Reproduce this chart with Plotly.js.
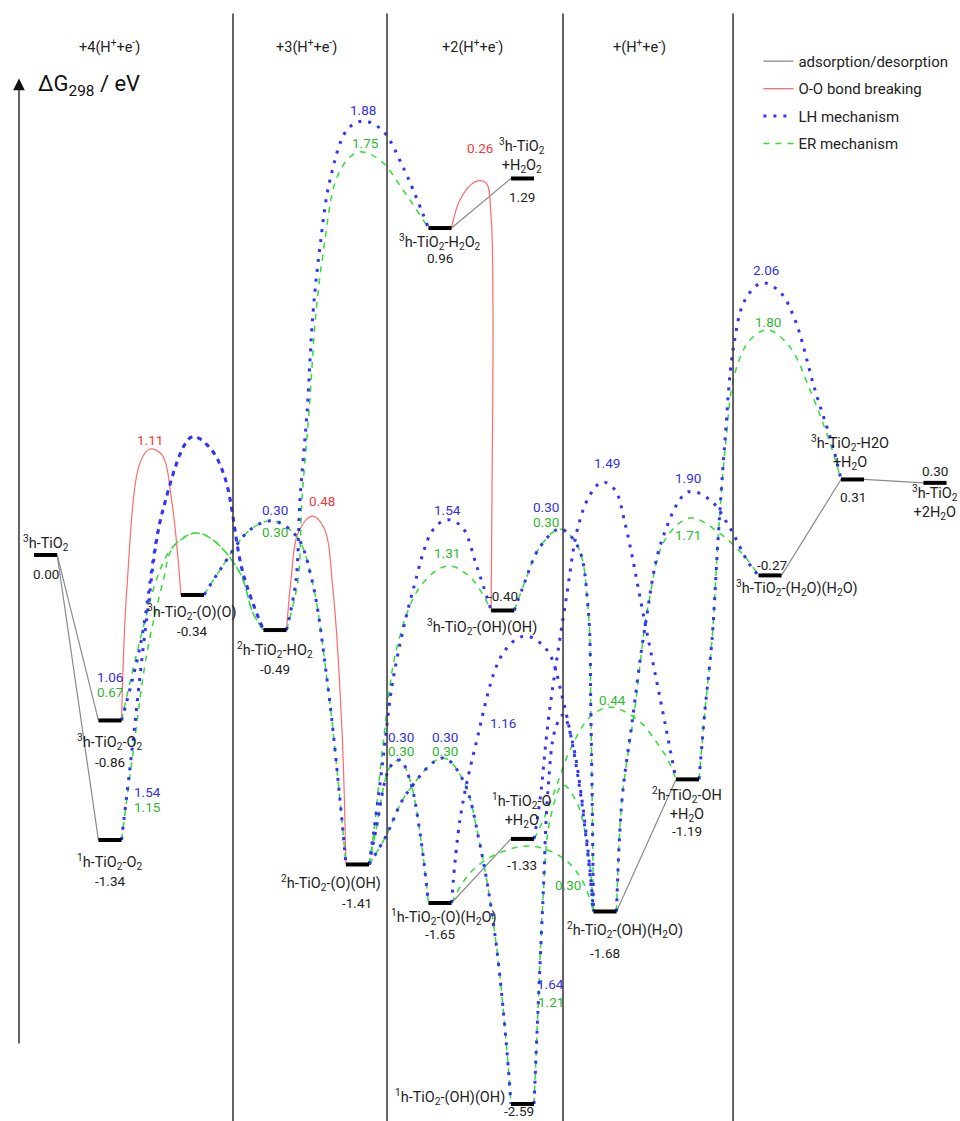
<!DOCTYPE html>
<html><head><meta charset="utf-8">
<script src="https://cdn.plot.ly/plotly-3.0.1.min.js"></script>
<style>html,body{margin:0;padding:0;background:#fff}#chart{width:960px;height:1121px}</style>
</head><body><div id="chart"></div>
<script>
// ---------------- data ----------------
// states (index 0..16)
const levelNames = [
 '<sup>3</sup>h-TiO<sub>2</sub>',
 '<sup>3</sup>h-TiO<sub>2</sub>-O<sub>2</sub>',
 '<sup>1</sup>h-TiO<sub>2</sub>-O<sub>2</sub>',
 '<sup>3</sup>h-TiO<sub>2</sub>-(O)(O)',
 '<sup>2</sup>h-TiO<sub>2</sub>-HO<sub>2</sub>',
 '<sup>2</sup>h-TiO<sub>2</sub>-(O)(OH)',
 '<sup>3</sup>h-TiO<sub>2</sub>-H<sub>2</sub>O<sub>2</sub>',
 '<sup>3</sup>h-TiO<sub>2</sub><br>+H<sub>2</sub>O<sub>2</sub>',
 '<sup>3</sup>h-TiO<sub>2</sub>-(OH)(OH)',
 '<sup>1</sup>h-TiO<sub>2</sub>-(O)(H<sub>2</sub>O)',
 '<sup>1</sup>h-TiO<sub>2</sub>-O<br>+H<sub>2</sub>O',
 '<sup>1</sup>h-TiO<sub>2</sub>-(OH)(OH)',
 '<sup>2</sup>h-TiO<sub>2</sub>-(OH)(H<sub>2</sub>O)',
 '<sup>2</sup>h-TiO<sub>2</sub>-OH<br>+H<sub>2</sub>O',
 '<sup>3</sup>h-TiO<sub>2</sub>-(H<sub>2</sub>O)(H<sub>2</sub>O)',
 '<sup>3</sup>h-TiO<sub>2</sub>-H2O<br>+H<sub>2</sub>O',
 '<sup>3</sup>h-TiO<sub>2</sub><br>+2H<sub>2</sub>O'
];
const levelEnergy = [0.00,-0.86,-1.34,-0.34,-0.49,-1.41,0.96,1.29,-0.40,-1.65,-1.33,-2.59,-1.68,-1.19,-0.27,0.31,0.30];
// reaction-step position and drawn height of each level (diagram is schematic)
const levelStep   = [0.22,1,1,2,3,4,5,6,5.76,5,6,6,7,8,9,10,11];
const levelHeight = [0,-0.778,-1.340,-0.188,-0.353,-1.455,1.537,1.770,-0.261,-1.636,-1.335,-2.581,-1.676,-1.055,-0.096,0.355,0.339];

// adsorption / desorption links (straight)
const adsLinks = [[0,1],[0,2],[6,7],[9,10],[12,13],[14,15],[15,16]];
// O-O bond breaking
const ooLinks = [
 {from:1,to:3,via:[[1.206,-0.150],[1.364,0.433],[1.485,0.498],[1.630,0.470],[1.752,0.244]]},
 {from:4,to:5,via:[[3.194,-0.118],[3.279,0.103],[3.448,0.183],[3.594,0.127],[3.703,-0.165],[3.812,-0.823]]},
 {from:6,to:8,via:[[5.242,1.669],[5.424,1.754],[5.558,1.749],[5.618,1.599],[5.642,1.199],[5.630,0.259]]}
];
// LH mechanism
const lhLinks = [
 {from:1,to:4,via:[[1.364,-0.433],[1.642,0.212],[1.994,0.555],[2.212,0.503],[2.394,0.362],[2.612,-0.085]]},
 {from:2,to:4,via:[[1.267,-0.917],[1.448,-0.291],[1.642,0.212],[1.994,0.555],[2.212,0.503],[2.394,0.362],[2.612,-0.085]]},
 {from:3,to:5,via:[[2.333,-0.071],[2.697,0.118],[2.976,0.160],[3.267,0.085],[3.448,-0.118],[3.642,-0.621],[3.788,-1.152]]},
 {from:4,to:6,via:[[3.255,-0.118],[3.303,0.259],[3.388,0.668],[3.461,1.138],[3.545,1.448],[3.667,1.763],[3.873,1.998],[4.067,2.040],[4.297,1.998],[4.552,1.824]]},
 {from:5,to:8,via:[[4.2,-1.293],[4.309,-0.964],[4.430,-0.588],[4.673,-0.165],[4.915,0.118],[5.085,0.165],[5.267,0.132],[5.448,-0.056]]},
 {from:5,to:9,via:[[4.224,-1.293],[4.394,-0.997],[4.515,-0.964],[4.636,-1.058],[4.758,-1.307]]},
 {from:5,to:11,via:[[4.333,-1.331],[4.6,-1.119],[5.036,-0.954],[5.279,-1.058],[5.485,-1.363],[5.667,-1.787],[5.8,-2.280]]},
 {from:9,to:12,via:[[5.242,-1.246],[5.424,-0.907],[5.764,-0.461],[6.030,-0.381],[6.297,-0.447],[6.491,-0.682],[6.697,-1.105]]},
 {from:8,to:12,via:[[6.006,-0.150],[6.212,0.038],[6.455,0.122],[6.673,0.038],[6.794,-0.244],[6.830,-0.776]]},
 {from:11,to:12,via:[[6.188,-2.139],[6.248,-1.622],[6.309,-1.105],[6.394,-0.823],[6.491,-0.752],[6.6,-0.870],[6.721,-1.152],[6.818,-1.481]]},
 {from:10,to:13,via:[[6.212,-1.152],[6.309,-0.790],[6.406,-0.517],[6.527,-0.212],[6.673,0.132],[6.818,0.282],[6.964,0.343],[7.121,0.306],[7.242,0.150],[7.485,-0.320],[7.727,-0.790]]},
 {from:12,to:14,via:[[7.206,-1.152],[7.327,-0.790],[7.485,-0.339],[7.691,0.071],[8.006,0.296],[8.273,0.259],[8.515,0.127],[8.733,-0.033]]},
 {from:13,to:15,via:[[8.212,-0.729],[8.297,-0.400],[8.370,0.071],[8.455,0.541],[8.552,0.964],[8.697,1.199],[8.903,1.279],[9.121,1.236],[9.303,1.105],[9.545,0.776],[9.764,0.508]]}
];
// ER mechanism
const erLinks = [
 {from:1,to:4,via:[[1.364,-0.400],[1.606,-0.071],[1.764,0.038],[2.030,0.103],[2.248,0.071],[2.576,-0.085],[2.733,-0.273]]},
 {from:2,to:4,via:[[1.279,-0.931],[1.448,-0.461],[1.642,-0.127],[1.764,0.038],[2.030,0.103],[2.248,0.071],[2.576,-0.085],[2.733,-0.273]]},
 {from:3,to:5,via:[[2.333,-0.071],[2.697,0.118],[2.976,0.160],[3.267,0.085],[3.448,-0.118],[3.642,-0.621],[3.788,-1.152]]},
 {from:4,to:6,via:[[3.279,-0.118],[3.327,0.259],[3.412,0.668],[3.497,1.138],[3.594,1.448],[3.739,1.763],[3.909,1.871],[4.055,1.895],[4.297,1.848],[4.552,1.716]]},
 {from:5,to:8,via:[[4.2,-1.293],[4.309,-0.893],[4.479,-0.433],[4.758,-0.150],[5.085,-0.052],[5.364,-0.103]]},
 {from:5,to:9,via:[[4.224,-1.293],[4.394,-0.997],[4.515,-0.964],[4.636,-1.058],[4.758,-1.307]]},
 {from:5,to:11,via:[[4.333,-1.331],[4.6,-1.119],[5.036,-0.954],[5.279,-1.058],[5.485,-1.363],[5.667,-1.787],[5.8,-2.280]]},
 {from:9,to:12,via:[[5.364,-1.495],[5.667,-1.410],[6.091,-1.368],[6.491,-1.425],[6.721,-1.528]]},
 {from:8,to:12,via:[[6.006,-0.150],[6.212,0.038],[6.455,0.122],[6.673,0.038],[6.794,-0.244],[6.830,-0.776]]},
 {from:11,to:12,via:[[6.188,-2.139],[6.248,-1.622],[6.333,-1.246],[6.491,-1.081],[6.661,-1.166],[6.794,-1.387]]},
 {from:10,to:13,via:[[6.236,-1.260],[6.394,-1.105],[6.576,-0.917],[6.818,-0.762],[7.061,-0.715],[7.4,-0.776],[7.606,-0.870],[7.764,-0.964]]},
 {from:12,to:14,via:[[7.206,-1.152],[7.364,-0.715],[7.521,-0.244],[7.727,0.071],[8.030,0.174],[8.370,0.108],[8.697,-0.009]]},
 {from:13,to:15,via:[[8.212,-0.729],[8.297,-0.400],[8.370,0.071],[8.455,0.494],[8.576,0.856],[8.758,1.011],[8.976,1.058],[9.242,0.978],[9.485,0.776],[9.727,0.527]]}
];
// barrier labels
const barrierValues = [1.11,1.06,0.67,1.54,1.15,0.30,0.30,0.48,1.88,1.75,0.26,1.54,1.31,0.30,0.30,0.30,0.30,1.16,0.30,0.30,0.30,1.64,1.21,1.49,0.44,1.90,1.71,2.06,1.80];
const barrierKind   = ['OO','LH','ER','LH','ER','LH','ER','OO','LH','ER','OO','LH','ER','LH','ER','LH','ER','LH','LH','ER','ER','LH','ER','LH','ER','LH','ER','LH','ER'];
const barrierX = [1.485,1.0,1.0,1.455,1.455,3.0,3.0,3.570,4.067,4.103,5.485,5.085,5.085,4.527,4.527,5.061,5.061,5.764,6.285,6.285,6.552,6.345,6.345,7.024,7.097,8.006,8.006,8.950,8.976];
const barrierY = [0.541,-0.574,-0.644,-1.114,-1.185,0.212,0.108,0.254,2.092,1.937,1.913,0.212,0.009,-0.856,-0.921,-0.856,-0.921,-0.790,0.226,0.155,-1.551,-2.018,-2.100,0.433,-0.682,0.362,0.094,1.340,1.095];
const sectionTitles = ['+4(H<sup>+</sup>+e<sup>-</sup>)','+3(H<sup>+</sup>+e<sup>-</sup>)','+2(H<sup>+</sup>+e<sup>-</sup>)','+(H<sup>+</sup>+e<sup>-</sup>)'];
const sectionTitleX = [1.0,3.376,5.388,7.424];
const sectionBounds = [2.491,4.358,6.491,8.552];

// ---------------- styling / label placement ----------------
const HALF = 0.14;
const COL = {ads:'#8a8a8a', OO:'#ff6a6a', LH:'#3333ff', ER:'#33dd33'};
const TXT = {OO:'#f03a3a', LH:'#3030e8', ER:'#2fb82f'};
const NAME_SIZE = 14.5, VAL_SIZE = 13.5, BAR_SIZE = 13.5;
// pixel offsets of the name / value labels from each bar centre
const nameOff = [[0,12],[0,-22],[0,-22],[0,-17],[0,-20],[-26,-19],[0,-14],[0,23],[-21,-16.5],[4,-14],[0,28],[-15,7],[20,-18.5],[0,-25],[26.5,-13],[-3,27],[0,-20]];
const valOff  = [[0,-19],[0,-41.5],[0,-41],[0,-36],[0,-38.5],[0,-38.5],[0,-29.5],[0,-18.5],[0,14.5],[0,-31],[0,-26],[-3,-7.5],[0,-41.5],[0,-52],[1.5,10.5],[0,-17.5],[0,12]];

function pathTrace(links){
  const xs=[], ys=[];
  links.forEach(l=>{
    xs.push(levelStep[l.from]+HALF); ys.push(levelHeight[l.from]);
    (l.via||[]).forEach(p=>{xs.push(p[0]); ys.push(p[1]);});
    xs.push(levelStep[l.to]-HALF); ys.push(levelHeight[l.to]);
    xs.push(null); ys.push(null);
  });
  return {x:xs,y:ys};
}

const ads = pathTrace(adsLinks.map(a=>({from:a[0],to:a[1]})));
const oo = pathTrace(ooLinks), lh = pathTrace(lhLinks), er = pathTrace(erLinks);
const bx=[], by=[];
levelStep.forEach((s,i)=>{bx.push(s-HALF,s+HALF,null); by.push(levelHeight[i],levelHeight[i],null);});

const traces = [
 {x:ads.x,y:ads.y,mode:'lines',name:'adsorption/desorption',line:{color:COL.ads,width:1.2},legendrank:1,legendgroup:'a',hoverinfo:'skip'},
 {x:oo.x,y:oo.y,mode:'lines',name:'O-O bond breaking',line:{color:COL.OO,width:1.2,shape:'spline',smoothing:1},legendrank:2,legendgroup:'b',hoverinfo:'skip'},
 {x:er.x,y:er.y,mode:'lines',name:'ER mechanism',line:{color:COL.ER,width:1.5,dash:'6px,6px',shape:'spline',smoothing:1},legendrank:4,legendgroup:'d',hoverinfo:'skip'},
 {x:lh.x,y:lh.y,mode:'lines',name:'LH mechanism',line:{color:COL.LH,width:3,dash:'3px,7px',shape:'spline',smoothing:1},legendrank:3,legendgroup:'c',hoverinfo:'skip'},
 {x:bx,y:by,mode:'lines',showlegend:false,line:{color:'#000',width:4},hoverinfo:'skip'}
];

const ann = [];
levelStep.forEach((s,i)=>{
  ann.push({x:s,y:levelHeight[i],text:levelNames[i],showarrow:false,xanchor:(i===11?'right':'center'),yanchor:'middle',
            xshift:nameOff[i][0],yshift:nameOff[i][1],font:{size:NAME_SIZE,color:'#222'}});
  ann.push({x:s,y:levelHeight[i],text:levelEnergy[i].toFixed(2),showarrow:false,xanchor:'center',yanchor:'middle',
            xshift:valOff[i][0],yshift:valOff[i][1],font:{size:VAL_SIZE,color:'#222'}});
});
barrierValues.forEach((v,i)=>{
  ann.push({x:barrierX[i],y:barrierY[i],text:v.toFixed(2),showarrow:false,xanchor:'center',yanchor:'middle',
            font:{size:BAR_SIZE,color:TXT[barrierKind[i]]}});
});
sectionTitles.forEach((t,i)=>{
  ann.push({x:sectionTitleX[i],y:2.39,text:t,showarrow:false,xanchor:'center',yanchor:'middle',font:{size:14.5,color:'#222'}});
});
ann.push({x:0.103,y:2.205,text:'ΔG<sub>298</sub> / eV',showarrow:false,xanchor:'left',yanchor:'middle',font:{size:22,color:'#111'}});
ann.push({x:-0.103,y:2.24,ax:-0.103,ay:-2.304,axref:'x',ayref:'y',text:'',showarrow:true,arrowhead:2,arrowsize:1.8,arrowwidth:1.3,arrowcolor:'#111'});

const shapes = sectionBounds.map(b=>({type:'line',xref:'x',yref:'paper',x0:b,x1:b,y0:0,y1:0.988,line:{color:'#333',width:1.5}}));

const layout = {
  width:960,height:1121,margin:{l:0,r:0,t:0,b:0},
  paper_bgcolor:'#fff',plot_bgcolor:'#fff',
  font:{family:'Roboto, "Open Sans", sans-serif',size:13,color:'#222'},
  xaxis:{range:[-0.333,11.303],visible:false},
  yaxis:{range:[-2.661,2.609],visible:false},
  showlegend:true,
  legend:{x:0.79,y:0.96,xanchor:'left',yanchor:'top',bgcolor:'rgba(0,0,0,0)',font:{size:15,color:'#222'},tracegroupgap:5,itemwidth:30},
  shapes:shapes,annotations:ann
};
Plotly.newPlot('chart',traces,layout,{staticPlot:true,displayModeBar:false});
</script>
</body></html>
